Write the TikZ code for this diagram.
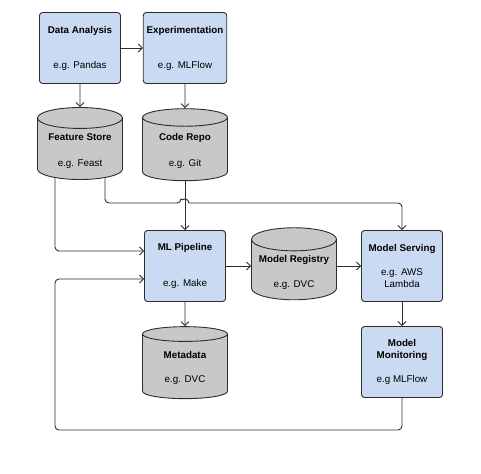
\documentclass[tikz,border=0pt]{standalone}
\usepackage{fontspec}
\setmainfont{Liberation Sans}
\usetikzlibrary{shapes.geometric,arrows.meta,calc}
\definecolor{toolblue}{RGB}{201,218,242}
\definecolor{storegray}{RGB}{200,200,200}
\definecolor{edgegray}{RGB}{45,45,45}

\begin{document}
\begin{tikzpicture}[x=1pt,y=-1pt,>={Straight Barb[length=4pt,width=8pt]},
    every node/.style={font=\fontsize{9.8}{12}\selectfont, align=center},
    tool/.style={draw=edgegray, fill=toolblue, rounded corners=3pt, line width=0.9pt,
        minimum width=81pt, minimum height=71pt},
    store/.style={cylinder, shape border rotate=90, aspect=0.3, draw=edgegray, fill=storegray,
        line width=0.9pt, minimum width=85pt, minimum height=72pt},
    link/.style={->, draw=edgegray, line width=0.9pt, rounded corners=4pt}]
    \useasboundingbox (0,0) rectangle (481,473);

    \node[tool] (da) at (80,48) {\textbf{Data Analysis}\\[23pt]e.g. Pandas};
    \node[tool] (exp) at (185,48) {\textbf{Experimentation}\\[23pt]e.g. MLFlow};
    \node[store] (fs) at (80,151) {\textbf{Feature Store}\\[14pt]e.g. Feast};
    \node[store] (cr) at (185,151) {\textbf{Code Repo}\\[14pt]e.g. Git};

    \node[tool] (mlp) at (185,266) {\textbf{ML Pipeline}\\[24pt]e.g. Make};
    \node[store] (mr) at (294,272) {\textbf{Model Registry}\\[13pt]e.g. DVC};
    \node[tool] (ms) at (402,266) {\textbf{Model Serving}\\[12pt]e.g. AWS\\Lambda};

    \node[store] (md) at (185,368) {\textbf{Metadata}\\[12pt]e.g. DVC};
    \node[tool] (mm) at (402,362) {\textbf{Model}\\\textbf{Monitoring}\\[12pt]e.g MLFlow};

    \coordinate (fsl) at ($(fs.south)+(-25,-1.5)$);
    \coordinate (fsr) at ($(fs.south)+(25,-1.5)$);
    \coordinate (bus) at (0,203);
    \coordinate (loop) at (55,430);

    \draw[link] (da) -- (exp);
    \draw[link] (da.south) -- (fs.north);
    \draw[link] (exp.south) -- (cr.north);
    \draw[link] (cr.south) -- (mlp.north);
    \draw[link] (fsl) |- ($(mlp.west)+(0,-15)$);
    \draw[link] (fsr) -- (fsr |- bus) -- ($(cr.south |- bus)+(-4,0)$) [sharp corners]
        arc[start angle=180,end angle=360,radius=4] [rounded corners=4pt]
        -- (ms.north |- bus) -- (ms.north);
    \draw[link] (mlp.east) -- (mlp.east -| mr.west);
    \draw[link] (ms.west -| mr.east) -- (ms.west);
    \draw[link] (mlp.south) -- (md.north);
    \draw[link] (ms) -- (mm);
    \draw[link] (mm.south) |- (loop) |- ($(mlp.west)+(0,13)$);
\end{tikzpicture}
\end{document}
